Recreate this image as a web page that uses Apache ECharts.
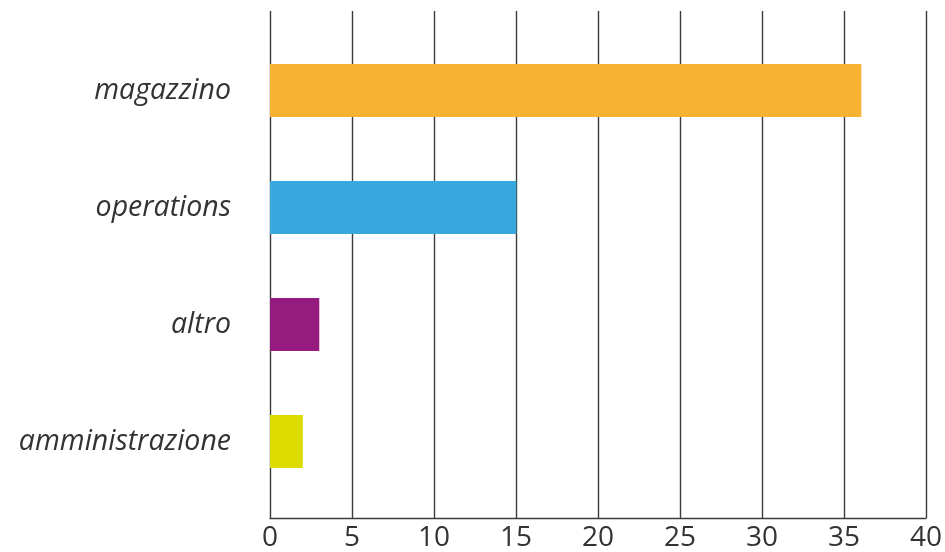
<!DOCTYPE html>
<html>
<head>
<meta charset="utf-8">
<script src="https://cdn.jsdelivr.net/npm/echarts@6/dist/echarts.min.js"></script>
<style>html,body{margin:0;padding:0;background:#fff}#c{width:945px;height:552px}</style>
</head>
<body>
<div id="c"></div>
<script>
var categories = ['magazzino', 'operations', 'altro', 'amministrazione'];
var values = [36, 15, 3, 2];
var barColors = ['#F7B133', '#38A8DF', '#961B7E', '#DDDC00'];
var xTicks = [0, 5, 10, 15, 20, 25, 30, 35, 40];

var chart = echarts.init(document.getElementById('c'), null, {renderer: 'canvas'});
var lineColor = '#3c3c3c';
chart.setOption({
  animation: false,
  grid: [
    {left: 270, right: 18, top: 11, bottom: 32},
    {left: 270, right: 18, top: 32, bottom: 52}
  ],
  xAxis: [
    {
      gridIndex: 0, type: 'value', min: xTicks[0], max: xTicks[xTicks.length - 1], interval: 5,
      axisLine: {show: true, lineStyle: {color: lineColor, width: 1.4}},
      axisTick: {show: false},
      splitLine: {show: true, lineStyle: {color: lineColor, width: 1.4}},
      axisLabel: {color: '#333', fontSize: 28, fontFamily: 'Open Sans', margin: 6}
    },
    {
      gridIndex: 1, type: 'value', min: xTicks[0], max: xTicks[xTicks.length - 1], interval: 5,
      show: false, splitLine: {show: false}
    }
  ],
  yAxis: [
    {
      gridIndex: 0, type: 'value', show: false, splitLine: {show: false}
    },
    {
      gridIndex: 1, type: 'category', data: categories, inverse: true,
      axisLine: {show: false}, axisTick: {show: false},
      axisLabel: {color: '#333', fontSize: 28.5, fontStyle: 'italic', fontFamily: 'Open Sans', margin: 39}
    }
  ],
  series: [{
    type: 'bar', xAxisIndex: 1, yAxisIndex: 1,
    barWidth: 53,
    data: values.map(function (v, i) { return {value: v, itemStyle: {color: barColors[i]}}; })
  }]
});
</script>
</body>
</html>
